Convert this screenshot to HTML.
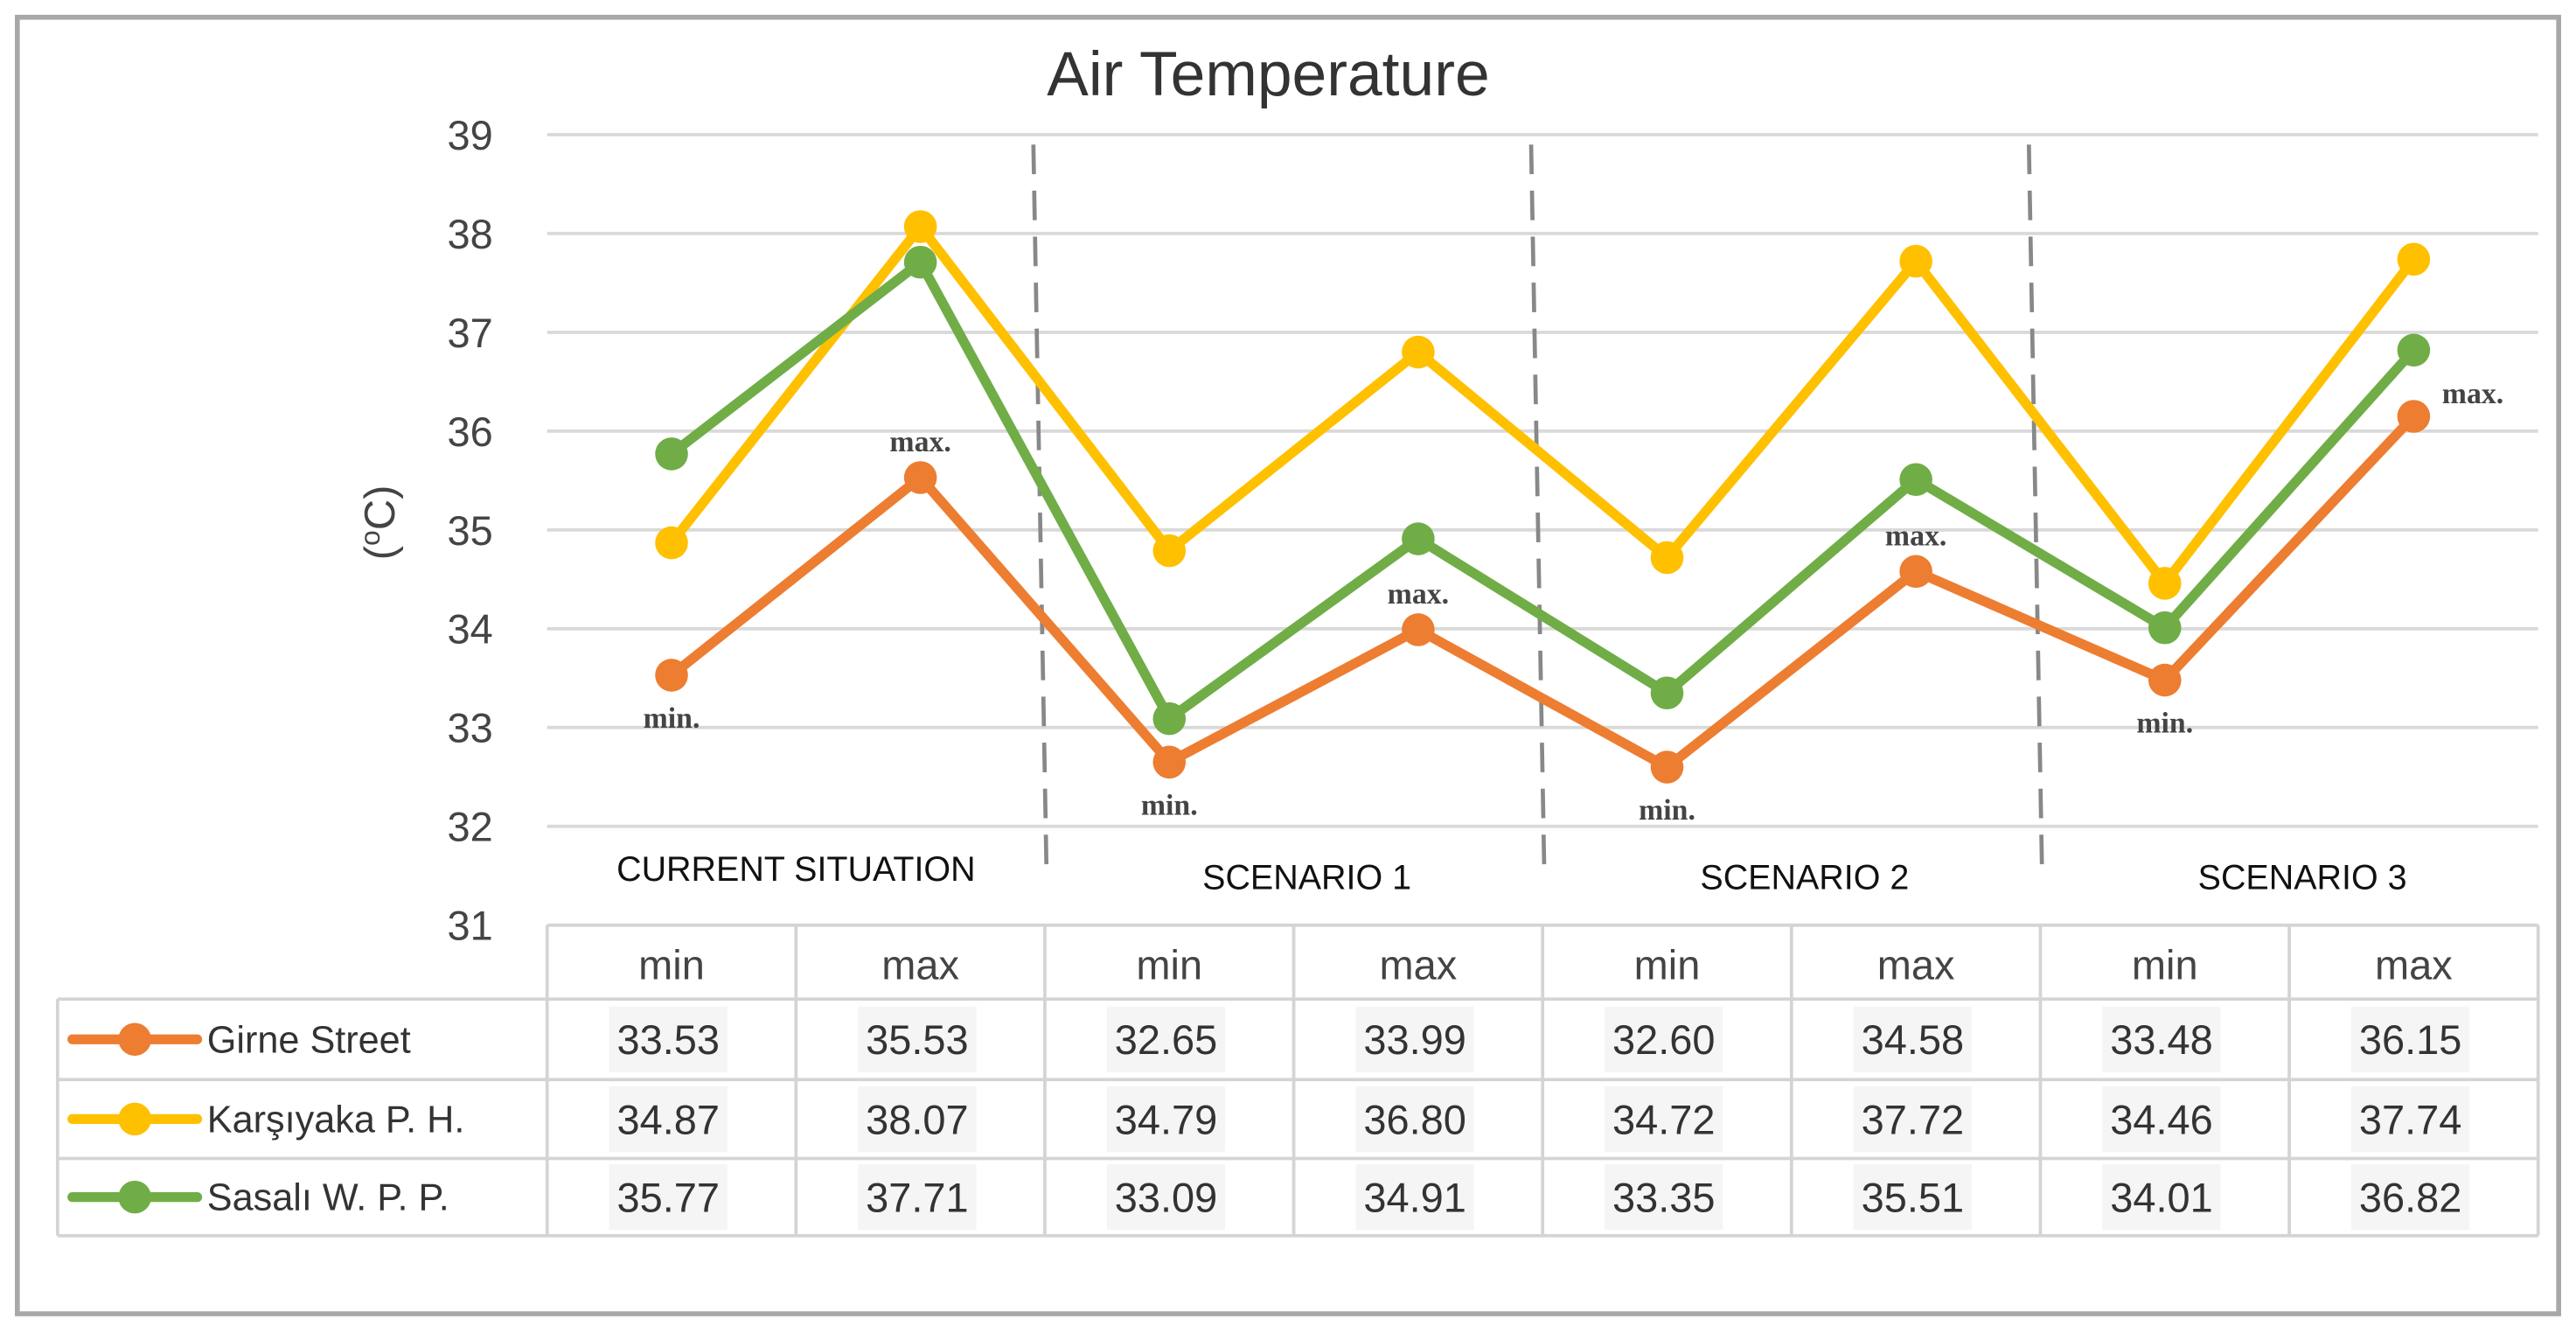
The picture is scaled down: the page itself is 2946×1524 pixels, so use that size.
<!DOCTYPE html>
<html><head><meta charset="utf-8"><style>
html,body{margin:0;padding:0;background:#fff}
svg{display:block}
text{font-family:"Liberation Sans",sans-serif}
</style></head><body>
<svg id="chart" width="2946" height="1524" viewBox="0 0 1568 811.2" xmlns="http://www.w3.org/2000/svg">
<rect x="10.5" y="10.5" width="1547" height="789" fill="#fff" stroke="#a8a8a8" stroke-width="3"/>
<text x="772" y="58" font-size="38" fill="#333" text-anchor="middle">Air Temperature</text>
<text transform="translate(240,318) rotate(-90)" font-size="26" fill="#444" text-anchor="middle">(<tspan font-size="17" dy="-9">o</tspan><tspan dy="9">C)</tspan></text>
<g id="grid"></g><g id="seps"></g><g id="lines"></g><g id="table"></g>
</svg>
<script>
const categories=["CURRENT SITUATION","SCENARIO 1","SCENARIO 2","SCENARIO 3"];
const subLabels=["min","max","min","max","min","max","min","max"];
const seriesNames=["Girne Street","Karşıyaka P. H.","Sasalı W. P. P."];
const girne=[33.53,35.53,32.65,33.99,32.60,34.58,33.48,36.15];
const karsiyaka=[34.87,38.07,34.79,36.80,34.72,37.72,34.46,37.74];
const sasali=[35.77,37.71,33.09,34.91,33.35,35.51,34.01,36.82];
const yTicks=[31,32,33,34,35,36,37,38,39];
const annotations=["min.","max.","min.","max.","min.","max.","min.","max."];

const NS="http://www.w3.org/2000/svg";
const colors=["#ED7D31","#FFC000","#70AD47"];
const allSeries=[girne,karsiyaka,sasali];
const plotL=333,plotR=1545,yMin=31,yMax=39,pxTop=82,pxBot=563;
const colW=(plotR-plotL)/subLabels.length;
function y(v){return pxBot-(v-yMin)/(yMax-yMin)*(pxBot-pxTop);}
function x(i){return plotL+colW*(i+0.5);}
function el(tag,attrs,parent,txt){const e=document.createElementNS(NS,tag);for(const k in attrs)e.setAttribute(k,attrs[k]);if(txt!==undefined)e.textContent=txt;parent.appendChild(e);return e;}
const grid=document.getElementById('grid');
yTicks.forEach(t=>{
  if(t>yMin){const g=el('line',{x1:plotL,x2:plotR,y1:y(t),y2:y(t),stroke:'#d9d9d9','stroke-width':2},grid);
  
  }
  const lt=el('text',{x:300,y:y(t)+9,'font-size':25,fill:'#444','text-anchor':'end'},grid,String(t));
  
  
});
const seps=document.getElementById('seps');
for(let c=1;c<categories.length;c++){
  const sx=plotL+colW*2*c;
  const s=el('line',{x1:sx-7,y1:88,x2:sx+1,y2:530,stroke:'#888','stroke-width':2.5,'stroke-dasharray':'18,10'},seps);
  
  
}
categories.forEach((c,i)=>{
  const t=el('text',{x:plotL+colW*(2*i+1)+(i==0?0:8),y:i==0?536:541,'font-size':21,fill:'#111','text-anchor':'middle'},seps,c);
  
  
});
const lines=document.getElementById('lines');
[1,2,0].forEach(si=>{
  const d=allSeries[si];
  const pts=d.map((v,i)=>x(i)+','+y(v)).join(' ');
  const p=el('polyline',{points:pts,fill:'none',stroke:colors[si],'stroke-width':6,'stroke-linejoin':'round'},lines);
  
  
  d.forEach((v,i)=>{
    const m=el('circle',{cx:x(i),cy:y(v),r:10,fill:colors[si]},lines);
    
    
  });
});
girne.forEach((v,i)=>{
  const a=annotations[i];let ax=x(i),ay;
  if(a==='min.'){ay=y(v)+32;}else{ay=y(v)-16;}
  if(i===7){ax=x(i)+36;ay=y(v)-8;}
  const t=el('text',{x:ax,y:ay,'font-size':18,style:'font-family:"Liberation Serif",serif;font-weight:bold',fill:'#444','text-anchor':'middle'},lines,a);
  
  
});
const tb=document.getElementById('table');
const rowsY=[563,608,657,705,752];
const tl=35;
function hl(x1,x2,yy){const l=el('line',{x1:x1,x2:x2,y1:yy,y2:yy,stroke:'#d4d4d4','stroke-width':2},tb);}
function vl(xx,y1,y2){const l=el('line',{x1:xx,x2:xx,y1:y1,y2:y2,stroke:'#d4d4d4','stroke-width':2},tb);}
hl(plotL,plotR,563);hl(tl,plotR,608);hl(tl,plotR,657);hl(tl,plotR,705);hl(tl,plotR,752);
vl(tl,608,752);
for(let i=0;i<=subLabels.length;i++)vl(plotL+colW*i,563,752);
subLabels.forEach((s,i)=>{
  const t=el('text',{x:x(i),y:596,'font-size':25,fill:'#444','text-anchor':'middle'},tb,s);
  
  
});
seriesNames.forEach((n,si)=>{
  const cy=(rowsY[si+1]+rowsY[si+2])/2;
  const lg=el('line',{x1:44,x2:120,y1:cy,y2:cy,stroke:colors[si],'stroke-width':6,'stroke-linecap':'round'},tb);
  
  
  const lc=el('circle',{cx:82,cy:cy,r:10,fill:colors[si]},tb);
  
  
  const lt=el('text',{x:126,y:cy+8,'font-size':23,fill:'#333'},tb,n);
  
  
  allSeries[si].forEach((v,i)=>{
    const bg=el('rect',{x:x(i)-38,y:cy-20,width:72,height:40,fill:'#f5f5f5'},tb);
    
    
    const vt=el('text',{x:x(i)-2,y:cy+9,'font-size':25,fill:'#333','text-anchor':'middle'},tb,v.toFixed(2));
    
    
  });
});
</script>
</body></html>
